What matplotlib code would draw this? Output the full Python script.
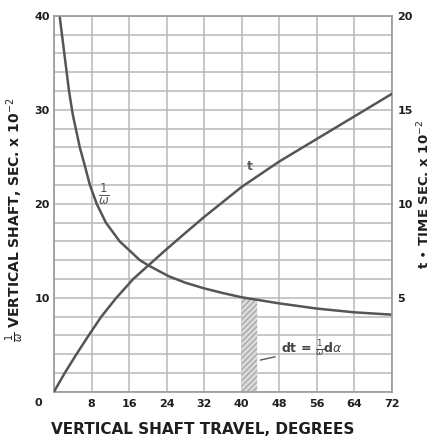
import numpy as np
from matplotlib import pyplot as plt

# 1/omega curve (left axis, sec x 10^-2) vs vertical shaft travel (degrees)
inv_x = [1.2, 2.2, 3.2, 4.0, 5.5, 6.6, 7.65, 9.1, 11.05, 14.0, 18.3, 20.1, 24.4, 28, 32, 36, 40, 48, 56, 64, 72]
inv_y = [40, 36, 32, 29.5, 26, 24, 22, 20, 18, 16, 14, 13.45, 12.3, 11.6, 11.0, 10.5, 10.05, 9.4, 8.85, 8.45, 8.2]

# t curve (right axis, time sec x 10^-2)
t_x = [0, 2.3, 4.8, 7.4, 10.1, 13.3, 16.9, 20.1, 23.6, 28, 32, 40, 48, 56, 64, 72]
t_y = [0, 1, 2, 3, 4, 5, 6, 6.72, 7.5, 8.45, 9.3, 10.9, 12.25, 13.45, 14.65, 15.85]

x_ticks = [8, 16, 24, 32, 40, 48, 56, 64, 72]
left_ticks = [10, 20, 30, 40]
right_ticks = [5, 10, 15, 20]
strip = (40, 43.3)     # shaded d-alpha strip

LINE = '#555555'
GRID = '#b8b8b8'
INK = '#1e1e1e'

fig = plt.figure(figsize=(4.32, 4.38), dpi=100)
ax = fig.add_axes([0.125, 0.1057, 0.782, 0.858])
ax.set_xlim(0, 72)
ax.set_ylim(0, 40)

ax.set_xticks(x_ticks)
ax.set_xticklabels([str(v) for v in x_ticks], fontsize=8, fontweight='bold', color=INK)
ax.set_xticks(np.arange(0, 73, 8), minor=True)
ax.set_yticks(left_ticks)
ax.set_yticklabels([str(v) for v in left_ticks], fontsize=8, fontweight='bold', color=INK)
ax.set_yticks(np.arange(0, 41, 2), minor=True)
ax.tick_params(which='both', length=0)
ax.tick_params(axis='x', pad=5)
ax.tick_params(axis='y', pad=3)
ax.grid(which='both', color=GRID, linewidth=1.1)
ax.set_axisbelow(True)
for s in ax.spines.values():
    s.set_color('#9a9a9a')
    s.set_linewidth(1.2)

# origin label sits off the corner
ax.annotate('0', xy=(0, 0), xycoords='axes fraction', xytext=(-11, -8),
            textcoords='offset points', fontsize=8, fontweight='bold',
            color=INK, ha='center', va='center')

# shaded strip under 1/w curve
sx = np.linspace(strip[0], strip[1], 20)
ax.fill_between(sx, 0, np.interp(sx, inv_x, inv_y), facecolor='#dcdcdc',
                edgecolor='#a8a8a8', hatch='//////', linewidth=0)

ax.plot(inv_x, inv_y, color=LINE, linewidth=1.8, solid_joinstyle='round')

ax2 = ax.twinx()
ax2.set_ylim(0, 20)
ax2.set_yticks(right_ticks)
ax2.set_yticklabels([str(v) for v in right_ticks], fontsize=8, fontweight='bold', color=INK)
ax2.tick_params(length=0, pad=4)
for s in ax2.spines.values():
    s.set_visible(False)
ax2.plot(t_x, t_y, color=LINE, linewidth=1.8, solid_joinstyle='round')

# curve labels
ax.text(10.6, 21, r'$\frac{1}{\omega}$', fontsize=12, color=LINE, ha='center', va='center')
ax.text(41.7, 24, 't', fontsize=9, fontweight='bold', color=LINE, ha='center', va='center')
ax.annotate(r'dt = $\frac{1}{\omega}$d$\alpha$', xy=(43.4, 3.3), xytext=(48.3, 4.6),
            fontsize=9, fontweight='bold', color='#444444', ha='left', va='center',
            arrowprops=dict(arrowstyle='-', color='#555555', lw=1.0))

ax.set_xlabel('VERTICAL SHAFT TRAVEL, DEGREES', fontsize=11, fontweight='bold', color=INK)
ax.xaxis.set_label_coords(0.44, -0.08)
ax.set_ylabel(r'$\frac{1}{\omega}$ VERTICAL SHAFT, SEC. x 10$^{-2}$', fontsize=10,
              fontweight='bold', color=INK)
ax.yaxis.set_label_coords(-0.083, 0.458)
ax2.set_ylabel(r't $\bullet$ TIME SEC. x 10$^{-2}$', fontsize=9.5, fontweight='bold',
               color=INK, rotation=90)
ax2.yaxis.set_label_coords(1.07, 0.525)

plt.savefig('out.png', dpi=100)
